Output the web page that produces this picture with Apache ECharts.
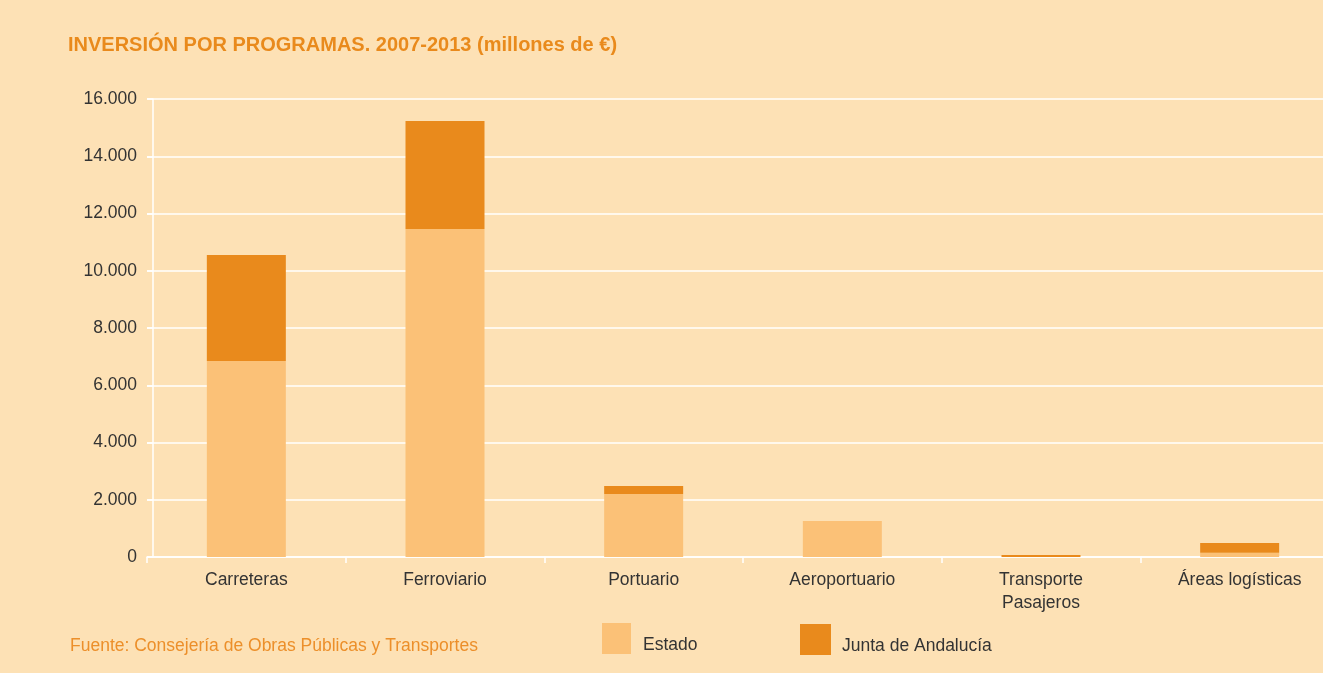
<!DOCTYPE html>
<html>
<head>
<meta charset="utf-8">
<title>Inversión por programas 2007-2013</title>
<script src="https://cdn.jsdelivr.net/npm/echarts@6/dist/echarts.min.js"></script>
<style>
  html, body { margin: 0; padding: 0; background: #FDE1B5; overflow: hidden; }
  /* the plot runs on past the right edge of the window */
  #chart { width: 1339px; height: 673px; }
</style>
</head>
<body>
<div id="chart"></div>
<script>
// Investment by programme, 2007-2013 (millions of euros)
const categories = ['Carreteras', 'Ferroviario', 'Portuario', 'Aeroportuario', 'Transporte\nPasajeros', 'Áreas logísticas'];
const estado = [6850, 11460, 2200, 1260, 0, 150];
const junta = [3700, 3770, 280, 0, 70, 340];
const yTicks = [0, 2000, 4000, 6000, 8000, 10000, 12000, 14000, 16000];

const FONT = '"Liberation Sans", Arial, Helvetica, sans-serif';
const ORANGE = '#E98A1C';
const LIGHT = '#FBC177';
const TEXT = '#333333';
const SIZE = 17.5;

function fmtThousands(v) {
  return String(v).replace(/\B(?=(\d{3})+(?!\d))/g, '.');
}

// legend labels sit a little below the middle of their swatches
function legendText(leftPad) {
  return {
    color: TEXT,
    fontFamily: FONT,
    fontSize: SIZE,
    padding: [0, 0, 0, leftPad],
    rich: {
      t: { color: TEXT, fontFamily: FONT, fontSize: SIZE, padding: [14, 0, 0, 0] }
    }
  };
}

const chart = echarts.init(document.getElementById('chart'), null, { renderer: 'canvas' });

chart.setOption({
  backgroundColor: '#FDE1B5',
  animation: false,
  textStyle: { fontFamily: FONT },
  title: [
    {
      text: 'INVERSIÓN POR PROGRAMAS. 2007-2013 (millones de €)',
      left: 68,
      top: 35,
      padding: 0,
      textStyle: { color: ORANGE, fontFamily: FONT, fontWeight: 'bold', fontSize: 20 }
    },
    {
      text: 'Fuente: Consejería de Obras Públicas y Transportes',
      left: 70,
      top: 637,
      padding: 0,
      textStyle: { color: '#EC8F2A', fontFamily: FONT, fontWeight: 'normal', fontSize: SIZE }
    }
  ],
  legend: [
    {
      data: ['Estado'],
      left: 602,
      top: 623,
      padding: 0,
      itemWidth: 29,
      itemHeight: 31,
      icon: 'rect',
      formatter: name => '{t|' + name + '}',
      textStyle: legendText(7)
    },
    {
      data: ['Junta de Andalucía'],
      left: 800,
      top: 624,
      padding: 0,
      itemWidth: 31,
      itemHeight: 31,
      icon: 'rect',
      formatter: name => '{t|' + name + '}',
      textStyle: legendText(6)
    }
  ],
  grid: {
    left: 147,
    right: 0,
    top: 99,
    bottom: 116,
    containLabel: false
  },
  xAxis: {
    type: 'category',
    data: categories,
    axisLine: { show: true, lineStyle: { color: '#FFFFFF', width: 1.5 } },
    axisTick: { show: true, length: 6, lineStyle: { color: '#FFFFFF', width: 1.5 } },
    axisLabel: {
      color: TEXT,
      fontFamily: FONT,
      fontSize: SIZE,
      lineHeight: 23,
      margin: 12,
      interval: 0
    }
  },
  yAxis: {
    type: 'value',
    min: 0,
    max: 16000,
    interval: 2000,
    offset: -6,
    axisLine: { show: true, lineStyle: { color: '#FFFFFF', width: 1.5 } },
    axisTick: { show: true, length: 6, lineStyle: { color: '#FFFFFF', width: 1.5 } },
    splitLine: { show: true, lineStyle: { color: '#FFFFFF', width: 1.5 } },
    axisLabel: {
      color: TEXT,
      fontFamily: FONT,
      fontSize: SIZE,
      margin: 16,
      customValues: yTicks,
      formatter: v => fmtThousands(v)
    }
  },
  series: [
    {
      name: 'Estado',
      type: 'bar',
      stack: 'total',
      barWidth: 79,
      data: estado,
      itemStyle: { color: LIGHT }
    },
    {
      name: 'Junta de Andalucía',
      type: 'bar',
      stack: 'total',
      barWidth: 79,
      data: junta,
      itemStyle: { color: ORANGE }
    }
  ]
});
</script>
</body>
</html>
